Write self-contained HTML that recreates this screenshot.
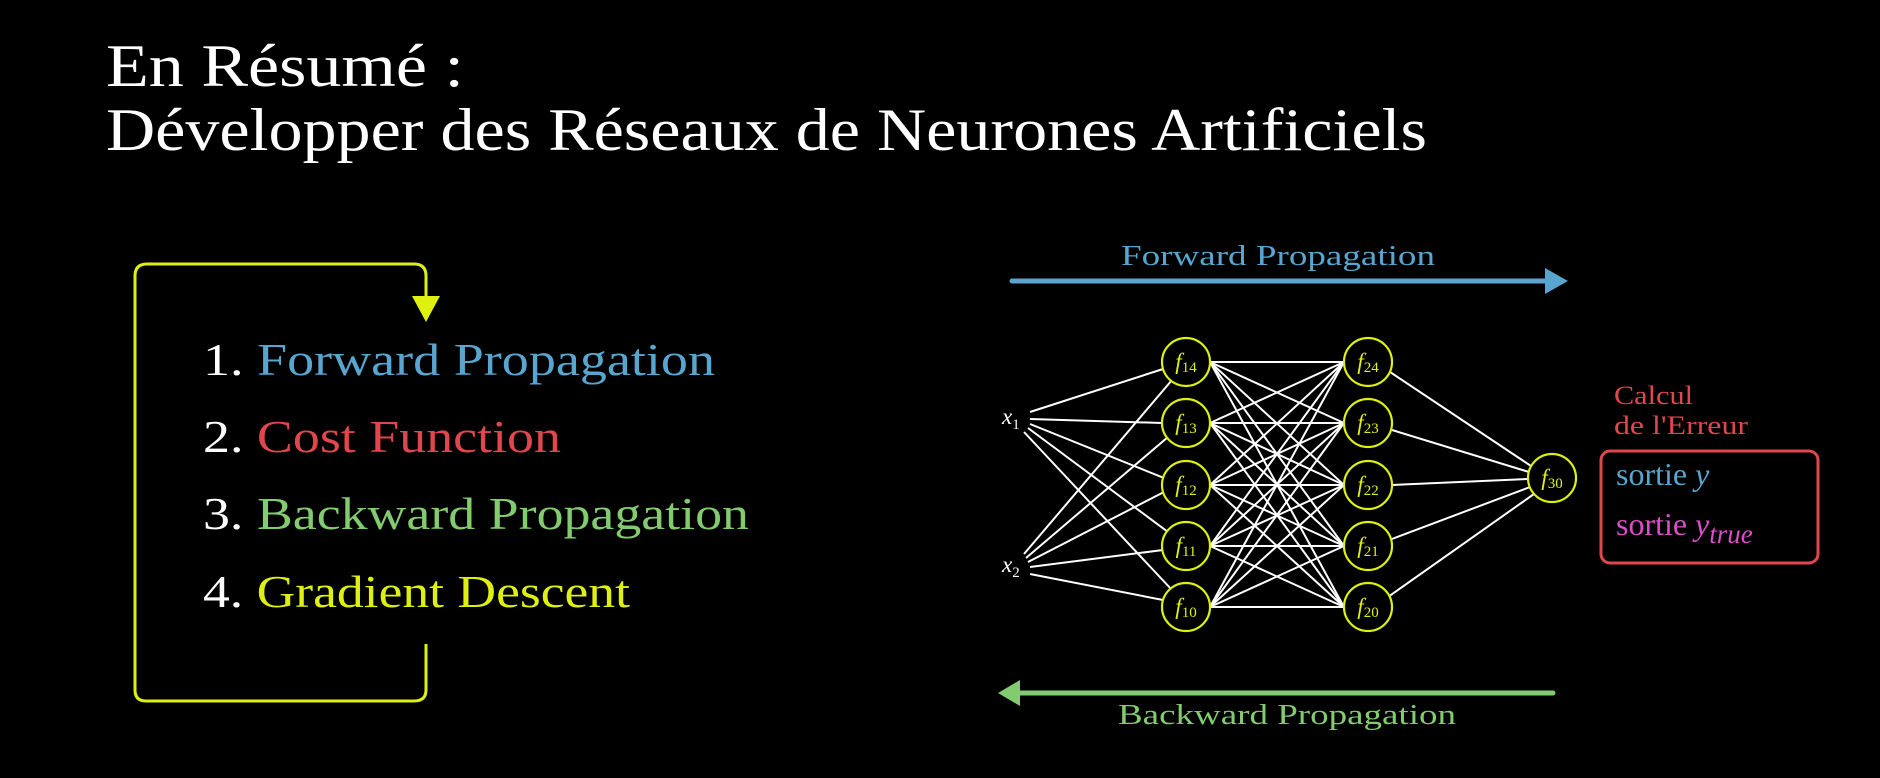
<!DOCTYPE html>
<html><head><meta charset="utf-8"><style>
html,body{margin:0;padding:0;background:#000;}
svg{display:block}
text{font-family:"Liberation Serif",serif;}
</style></head><body>
<svg width="1880" height="778" viewBox="0 0 1880 778" xmlns="http://www.w3.org/2000/svg">
<rect width="1880" height="778" fill="#000"/>
<text x="106" y="86" font-size="60" fill="#fff" textLength="358" lengthAdjust="spacingAndGlyphs">En Résumé :</text>
<text x="106" y="150" font-size="60" fill="#fff" textLength="1321" lengthAdjust="spacingAndGlyphs">Développer des Réseaux de Neurones Artificiels</text>

<!-- loop -->
<path d="M426 644 L426 690 Q426 701 414 701 L146 701 Q135 701 135 690 L135 276 Q135 264 147 264 L414 264 Q426 264 426 276 L426 298" fill="none" stroke="#ddf010" stroke-width="3"/>
<polygon points="412,296 440,296 426,322" fill="#ddf010"/>

<g font-size="46">
<text x="203" y="375" fill="#fff" textLength="512" lengthAdjust="spacingAndGlyphs">1. <tspan fill="#58a6d0">Forward Propagation</tspan></text>
<text x="203" y="452" fill="#fff" textLength="358" lengthAdjust="spacingAndGlyphs">2. <tspan fill="#e0474c">Cost Function</tspan></text>
<text x="203" y="529" fill="#fff" textLength="546" lengthAdjust="spacingAndGlyphs">3. <tspan fill="#83cb6f">Backward Propagation</tspan></text>
<text x="203" y="607" fill="#fff" textLength="427" lengthAdjust="spacingAndGlyphs">4. <tspan fill="#ddf010">Gradient Descent</tspan></text>
</g>

<!-- arrows -->
<text x="1121" y="265" font-size="28" fill="#58a6d0" textLength="314" lengthAdjust="spacingAndGlyphs">Forward Propagation</text>
<line x1="1012" y1="281" x2="1550" y2="281" stroke="#58a6d0" stroke-width="5" stroke-linecap="round"/>
<polygon points="1545,268 1568,281 1545,294" fill="#58a6d0"/>
<line x1="1553" y1="693" x2="1015" y2="693" stroke="#83cb6f" stroke-width="5" stroke-linecap="round"/>
<polygon points="1020,680 998,693 1020,706" fill="#83cb6f"/>
<text x="1118" y="724" font-size="28" fill="#83cb6f" textLength="338" lengthAdjust="spacingAndGlyphs">Backward Propagation</text>

<!-- edges -->
<g stroke="#fff" stroke-width="2">
<line x1="1030" y1="412" x2="1163" y2="369"/><line x1="1030" y1="419" x2="1162" y2="423"/><line x1="1030" y1="424" x2="1164" y2="478"/><line x1="1028" y1="428" x2="1168" y2="532"/><line x1="1024" y1="432" x2="1172" y2="590"/>
<line x1="1024" y1="554" x2="1172" y2="380"/><line x1="1026" y1="558" x2="1168" y2="437"/><line x1="1028" y1="562" x2="1164" y2="492"/><line x1="1030" y1="567" x2="1163" y2="550"/><line x1="1030" y1="574" x2="1163" y2="600"/>
</g>
<g stroke="#fff" stroke-width="2">
<line x1="1210" y1="362" x2="1344" y2="362"/><line x1="1210" y1="362" x2="1344" y2="423"/><line x1="1210" y1="362" x2="1344" y2="485"/><line x1="1210" y1="362" x2="1344" y2="546"/><line x1="1210" y1="362" x2="1344" y2="607"/>
<line x1="1210" y1="423" x2="1344" y2="362"/><line x1="1210" y1="423" x2="1344" y2="423"/><line x1="1210" y1="423" x2="1344" y2="485"/><line x1="1210" y1="423" x2="1344" y2="546"/><line x1="1210" y1="423" x2="1344" y2="607"/>
<line x1="1210" y1="485" x2="1344" y2="362"/><line x1="1210" y1="485" x2="1344" y2="423"/><line x1="1210" y1="485" x2="1344" y2="485"/><line x1="1210" y1="485" x2="1344" y2="546"/><line x1="1210" y1="485" x2="1344" y2="607"/>
<line x1="1210" y1="546" x2="1344" y2="362"/><line x1="1210" y1="546" x2="1344" y2="423"/><line x1="1210" y1="546" x2="1344" y2="485"/><line x1="1210" y1="546" x2="1344" y2="546"/><line x1="1210" y1="546" x2="1344" y2="607"/>
<line x1="1210" y1="607" x2="1344" y2="362"/><line x1="1210" y1="607" x2="1344" y2="423"/><line x1="1210" y1="607" x2="1344" y2="485"/><line x1="1210" y1="607" x2="1344" y2="546"/><line x1="1210" y1="607" x2="1344" y2="607"/>
<line x1="1390" y1="372" x2="1531" y2="466"/><line x1="1392" y1="430" x2="1529" y2="472"/><line x1="1392" y1="485" x2="1528" y2="479"/><line x1="1392" y1="539" x2="1530" y2="487"/><line x1="1388" y1="597" x2="1534" y2="494"/>
</g>

<!-- nodes -->
<g fill="#000" stroke="#ddf010" stroke-width="2.2">
<circle cx="1186" cy="362" r="24"/><circle cx="1186" cy="423" r="24"/><circle cx="1186" cy="485" r="24"/><circle cx="1186" cy="546" r="24"/><circle cx="1186" cy="607" r="24"/>
<circle cx="1368" cy="362" r="24"/><circle cx="1368" cy="423" r="24"/><circle cx="1368" cy="485" r="24"/><circle cx="1368" cy="546" r="24"/><circle cx="1368" cy="607" r="24"/>
<circle cx="1552" cy="478" r="24"/>
</g>
<g fill="#ddf010" font-size="23" text-anchor="middle">
<text x="1186" y="369"><tspan font-style="italic">f</tspan><tspan font-size="15" dy="3">14</tspan></text>
<text x="1186" y="430"><tspan font-style="italic">f</tspan><tspan font-size="15" dy="3">13</tspan></text>
<text x="1186" y="492"><tspan font-style="italic">f</tspan><tspan font-size="15" dy="3">12</tspan></text>
<text x="1186" y="553"><tspan font-style="italic">f</tspan><tspan font-size="15" dy="3">11</tspan></text>
<text x="1186" y="614"><tspan font-style="italic">f</tspan><tspan font-size="15" dy="3">10</tspan></text>
<text x="1368" y="369"><tspan font-style="italic">f</tspan><tspan font-size="15" dy="3">24</tspan></text>
<text x="1368" y="430"><tspan font-style="italic">f</tspan><tspan font-size="15" dy="3">23</tspan></text>
<text x="1368" y="492"><tspan font-style="italic">f</tspan><tspan font-size="15" dy="3">22</tspan></text>
<text x="1368" y="553"><tspan font-style="italic">f</tspan><tspan font-size="15" dy="3">21</tspan></text>
<text x="1368" y="614"><tspan font-style="italic">f</tspan><tspan font-size="15" dy="3">20</tspan></text>
<text x="1552" y="485"><tspan font-style="italic">f</tspan><tspan font-size="15" dy="3">30</tspan></text>
</g>
<g fill="#fff" font-size="23">
<text x="1002" y="424"><tspan font-style="italic">x</tspan><tspan font-size="15" dy="5">1</tspan></text>
<text x="1002" y="572"><tspan font-style="italic">x</tspan><tspan font-size="15" dy="5">2</tspan></text>
</g>

<!-- error box -->
<text x="1614" y="404" font-size="26" fill="#e0474c" textLength="79" lengthAdjust="spacingAndGlyphs">Calcul</text>
<text x="1614" y="434" font-size="26" fill="#e0474c" textLength="134" lengthAdjust="spacingAndGlyphs">de l'Erreur</text>
<rect x="1601" y="451" width="217" height="112" rx="9" fill="none" stroke="#e0474c" stroke-width="3"/>
<text x="1616" y="485" font-size="32" fill="#58a6d0">sortie <tspan font-style="italic">y</tspan></text>
<text x="1616" y="535" font-size="32" fill="#d84fc8">sortie <tspan font-style="italic">y</tspan><tspan font-style="italic" font-size="27" dy="8">true</tspan></text>
</svg>
</body></html>
